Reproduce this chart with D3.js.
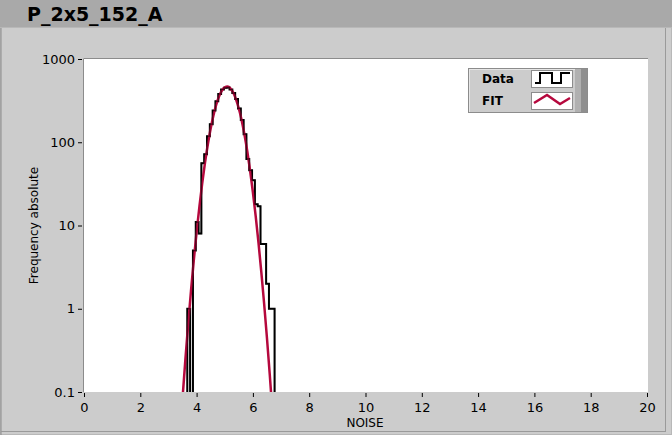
<!DOCTYPE html>
<html><head><meta charset="utf-8">
<script src="https://cdn.jsdelivr.net/npm/d3@7"></script>
<style>html,body{margin:0;padding:0;background:#cccccc;}svg{display:block;}</style>
</head><body>
<svg id="chart" width="672" height="435"></svg>
<script>
// ---- data ----
const title = "P_2x5_152_A";
const yTicks = [0.1, 1, 10, 100, 1000];
const yTickLabels = ["0.1", "1", "10", "100", "1000"];
const xTicks = [0, 2, 4, 6, 8, 10, 12, 14, 16, 18, 20];
const binEdges = [3.67, 3.77, 3.87, 3.97, 4.07, 4.17, 4.27, 4.37, 4.47, 4.57, 4.67, 4.77, 4.87, 4.97, 5.07, 5.17,
                  5.27, 5.37, 5.47, 5.57, 5.67, 5.77, 5.87, 5.97, 6.07, 6.17, 6.27, 6.37, 6.47, 6.57, 6.67, 6.77];
const binCounts = [1, 0, 5, 11, 8, 56, 72, 118, 165, 240, 310, 380, 430, 450, 455, 430,
                   390, 330, 255, 185, 125, 63, 46, 35, 18, 17, 6, 6, 2, 1, 1];
const fitX = [3.5, 3.6, 3.7, 3.8, 3.9, 4.0, 4.1, 4.2, 4.3, 4.4, 4.5, 4.6, 4.7, 4.8, 4.9, 5.0, 5.1,
              5.2, 5.3, 5.4, 5.5, 5.6, 5.7, 5.8, 5.9, 6.0, 6.1, 6.2, 6.3, 6.4, 6.5, 6.6, 6.7];
const fitY = [0.084, 0.242, 0.65, 1.63, 3.81, 8.32, 16.9, 32.2, 57.2, 94.6, 146, 211, 284, 357, 418, 457, 467,
              445, 396, 328, 254, 184, 124, 78.0, 45.8, 25.1, 12.9, 6.14, 2.74, 1.14, 0.442, 0.160, 0.054];
const legendNames = ["Data", "FIT"];
const seriesColors = ["#000000", "#b5083d"];

// ---- layout ----
const svg = d3.select("#chart");
const W = 672, H = 435;
const L = 84, R = 647, T = 59, B = 392;
const font = "'DejaVu Sans', sans-serif";

svg.append("rect").attr("x", 0).attr("y", 0).attr("width", W).attr("height", H).attr("fill", "#a9a9a9");
svg.append("rect").attr("x", 0.5).attr("y", 27.5).attr("width", W - 1).attr("height", H - 28)
  .attr("fill", "#cccccc").attr("stroke", "#b8b8b8");
svg.append("line").attr("x1", 1).attr("x2", 1).attr("y1", 28).attr("y2", H).attr("stroke", "#8c8c8c");
svg.append("line").attr("x1", 665.5).attr("x2", 665.5).attr("y1", 28).attr("y2", 431).attr("stroke", "#9a9a9a");
svg.append("line").attr("x1", 1).attr("x2", 666).attr("y1", 431.5).attr("y2", 431.5).attr("stroke", "#9a9a9a");

svg.append("text").attr("x", 27).attr("y", 21).text(title)
  .attr("font-family", font).attr("font-weight", "bold").attr("font-size", 19).attr("fill", "#000");

const x = d3.scaleLinear().domain([0, 20]).range([L, R]);
const y = d3.scaleLog().domain([0.1, 1000]).range([B, T]);

// plot area
svg.append("rect").attr("x", L).attr("y", T).attr("width", R - L + 1).attr("height", B - T).attr("fill", "#ffffff");
svg.append("line").attr("x1", L - 0.5).attr("x2", L - 0.5).attr("y1", T).attr("y2", B).attr("stroke", "#8c8c8c");
svg.append("line").attr("x1", L - 0.5).attr("x2", R + 1).attr("y1", T - 0.5).attr("y2", T - 0.5).attr("stroke", "#8c8c8c");

svg.append("clipPath").attr("id", "clip").append("rect")
  .attr("x", L).attr("y", T).attr("width", R - L + 1).attr("height", B - T);

// axes
const yAxis = d3.axisLeft(y).tickValues(yTicks).tickFormat((d, i) => yTickLabels[i]).tickSize(4).tickPadding(3).tickSizeOuter(0);
const gy = svg.append("g").attr("transform", `translate(${L - 2},0)`).call(yAxis);
gy.select(".domain").remove();
gy.selectAll("text").attr("font-family", font).attr("font-size", 13).attr("fill", "#000");
gy.selectAll("line").attr("stroke", "#000");

const xAxis = d3.axisBottom(x).tickValues(xTicks).tickFormat(d3.format("d")).tickSize(4).tickPadding(6).tickSizeOuter(0);
const gx = svg.append("g").attr("transform", `translate(0,${B + 1})`).call(xAxis);
gx.select(".domain").remove();
gx.selectAll("text").attr("font-family", font).attr("font-size", 13).attr("fill", "#000");
gx.selectAll("line").attr("stroke", "#000");

svg.append("text").attr("transform", `translate(38,${(T + B) / 2}) rotate(-90)`).attr("text-anchor", "middle")
  .attr("font-family", font).attr("font-size", 12).text("Frequency absolute");
svg.append("text").attr("x", 365).attr("y", 427).attr("text-anchor", "middle")
  .attr("font-family", font).attr("font-size", 12).text("NOISE");

// data
const plot = svg.append("g").attr("clip-path", "url(#clip)");
const stepPts = [{x: binEdges[0] - 0.1, c: 0}];
binCounts.forEach((c, i) => stepPts.push({x: binEdges[i], c: c}));
stepPts.push({x: binEdges[binEdges.length - 1], c: 0});
const yv = c => c > 0 ? y(c) : B + 10;
plot.append("path").datum(stepPts)
  .attr("d", d3.line().x(d => x(d.x)).y(d => yv(d.c)).curve(d3.curveStepAfter))
  .attr("fill", "none").attr("stroke", seriesColors[0]).attr("stroke-width", 2);

const fitData = fitX.map((v, i) => ({x: v, v: fitY[i]}));
plot.append("path").datum(fitData)
  .attr("d", d3.line().x(d => x(d.x)).y(d => y(d.v)).curve(d3.curveMonotoneX))
  .attr("fill", "none").attr("stroke", seriesColors[1]).attr("stroke-width", 2.5);
// redraw black on top lightly where overlapping
plot.append("path").datum(stepPts)
  .attr("d", d3.line().x(d => x(d.x)).y(d => yv(d.c)).curve(d3.curveStepAfter))
  .attr("fill", "none").attr("stroke", seriesColors[0]).attr("stroke-width", 1.2).attr("opacity", 0.6);

// legend
const lg = svg.append("g");
lg.append("rect").attr("x", 468.5).attr("y", 68.5).attr("width", 119).attr("height", 44)
  .attr("fill", "#cccccc").attr("stroke", "#8c8c8c");
lg.append("line").attr("x1", 469).attr("x2", 587).attr("y1", 69.5).attr("y2", 69.5).attr("stroke", "#e6e6e6");
lg.append("line").attr("x1", 469.5).attr("x2", 469.5).attr("y1", 69).attr("y2", 112).attr("stroke", "#e6e6e6");
lg.append("rect").attr("x", 575).attr("y", 69).attr("width", 12).attr("height", 43).attr("fill", "#b0b0b0");
lg.append("rect").attr("x", 581).attr("y", 69).attr("width", 6).attr("height", 43).attr("fill", "#8f8f8f");
legendNames.forEach((name, i) => {
  const ry = 69 + i * 22;
  lg.append("text").attr("x", 482).attr("y", ry + 14).text(name)
    .attr("font-family", font).attr("font-weight", "bold").attr("font-size", 12).attr("fill", "#000");
  lg.append("rect").attr("x", 531.5).attr("y", ry + 1.5).attr("width", 41).attr("height", 17)
    .attr("fill", "#fff").attr("stroke", "#8c8c8c");
});
const d0 = [[535, 83], [540, 83], [540, 73], [552, 73], [552, 83], [561, 83], [561, 73], [570, 73]];
lg.append("path").attr("d", d3.line()(d0)).attr("fill", "none").attr("stroke", seriesColors[0]).attr("stroke-width", 2);
const d1 = [[534, 103], [547, 95], [560, 104], [570, 98]];
lg.append("path").attr("d", d3.line()(d1)).attr("fill", "none").attr("stroke", seriesColors[1]).attr("stroke-width", 2.5);
</script>
</body></html>
